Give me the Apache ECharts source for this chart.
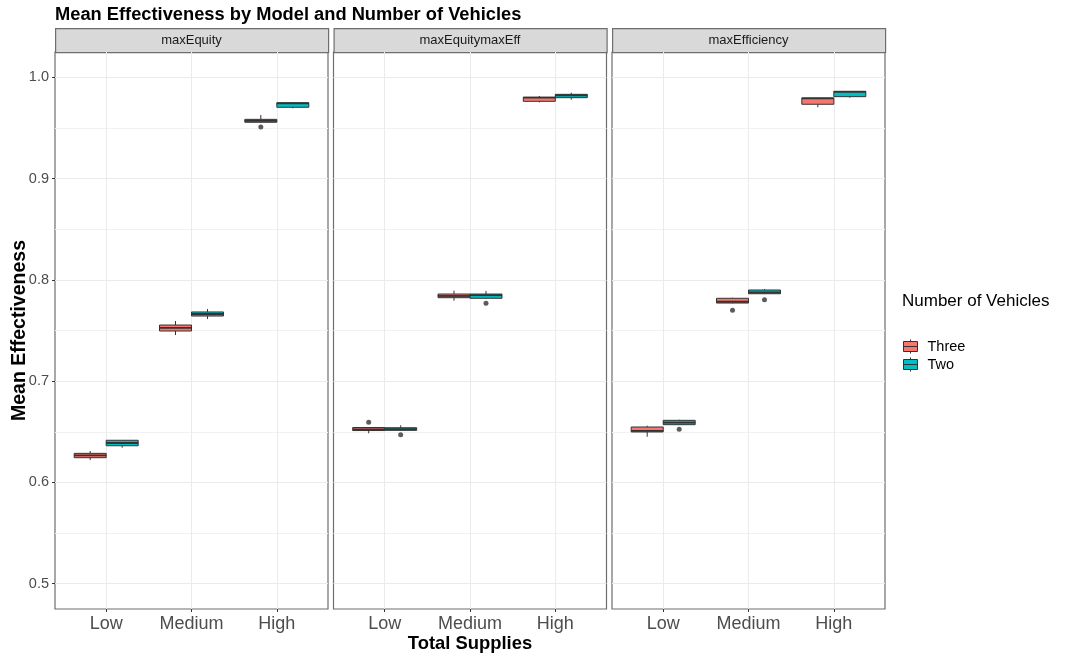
<!DOCTYPE html>
<html>
<head>
<meta charset="utf-8">
<script src="https://cdn.jsdelivr.net/npm/echarts@6/dist/echarts.min.js"></script>
<style>
  html, body { margin: 0; padding: 0; background: #fff; }
  #chart { width: 1066px; height: 655px; }
</style>
</head>
<body>
<div id="chart"></div>
<script>
// Facet panels, x categories and legend groups
const models = ['maxEquity', 'maxEquitymaxEff', 'maxEfficiency'];
const supplies = ['Low', 'Medium', 'High'];
const vehicles = ['Three', 'Two'];
const yTicks = [0.5, 0.6, 0.7, 0.8, 0.9, 1.0];
const yMinorTicks = [0.55, 0.65, 0.75, 0.85, 0.95];

// Five-number summaries [min, Q1, median, Q3, max] for Low, Medium, High
const maxEquityThree = [[0.6221, 0.6244, 0.6266, 0.6287, 0.6310], [0.7455, 0.7495, 0.7525, 0.7554, 0.7594], [0.9553, 0.9556, 0.9570, 0.9585, 0.9628]];
const maxEquityTwo = [[0.6343, 0.6362, 0.6389, 0.6416, 0.6418], [0.7613, 0.7643, 0.7663, 0.7683, 0.7712], [0.9694, 0.9704, 0.9743, 0.9749, 0.9752]];
const maxEquitymaxEffThree = [[0.6485, 0.6512, 0.6524, 0.6542, 0.6545], [0.7794, 0.7824, 0.7841, 0.7860, 0.7893], [0.9753, 0.9763, 0.9800, 0.9803, 0.9816]];
const maxEquitymaxEffTwo = [[0.6510, 0.6514, 0.6527, 0.6540, 0.6564], [0.7815, 0.7818, 0.7849, 0.7860, 0.7890], [0.9779, 0.9799, 0.9822, 0.9832, 0.9848]];
const maxEfficiencyThree = [[0.6451, 0.6498, 0.6508, 0.6547, 0.6560], [0.7768, 0.7771, 0.7784, 0.7818, 0.7824], [0.9704, 0.9734, 0.9792, 0.9796, 0.9798]];
const maxEfficiencyTwo = [[0.6568, 0.6570, 0.6590, 0.6613, 0.6619], [0.7860, 0.7863, 0.7877, 0.7900, 0.7910], [0.9799, 0.9809, 0.9856, 0.9862, 0.9864]];

// Points beyond the whiskers: [supply index, value]
const maxEquityThreeOut = [[2, 0.9509]];
const maxEquityTwoOut = [];
const maxEquitymaxEffThreeOut = [[0, 0.6593]];
const maxEquitymaxEffTwoOut = [[0, 0.6471], [1, 0.7769]];
const maxEfficiencyThreeOut = [[1, 0.7699]];
const maxEfficiencyTwoOut = [[0, 0.6524], [1, 0.7804]];

const panelData = [
  { Three: maxEquityThree, Two: maxEquityTwo, ThreeOut: maxEquityThreeOut, TwoOut: maxEquityTwoOut },
  { Three: maxEquitymaxEffThree, Two: maxEquitymaxEffTwo, ThreeOut: maxEquitymaxEffThreeOut, TwoOut: maxEquitymaxEffTwoOut },
  { Three: maxEfficiencyThree, Two: maxEfficiencyTwo, ThreeOut: maxEfficiencyThreeOut, TwoOut: maxEfficiencyTwoOut }
];

const FONT = '"Liberation Sans", Arial, sans-serif';
const colors = { Three: '#F8766D', Two: '#00BFC4' };
const BOX_WIDTH = 0.375;              // per group, in category units
const dodge = { Three: -0.1875, Two: 0.1875 };
const panelLeft = [55, 333.5, 612];
const panelWidth = 273;
const panelTop = 52;
const panelHeight = 557;
const stripHeight = 24;

function renderBox(params, api) {
  const x = api.value(0);
  const lo = api.coord([x, api.value(1)]);
  const q1 = api.coord([x, api.value(2)]);
  const md = api.coord([x, api.value(3)]);
  const q3 = api.coord([x, api.value(4)]);
  const hi = api.coord([x, api.value(5)]);
  const half = api.size([BOX_WIDTH, 0])[0] / 2;
  const edge = '#333333';
  return {
    type: 'group',
    children: [
      { type: 'line', shape: { x1: lo[0], y1: lo[1], x2: q1[0], y2: q1[1] }, style: { stroke: edge, lineWidth: 1 } },
      { type: 'line', shape: { x1: q3[0], y1: q3[1], x2: hi[0], y2: hi[1] }, style: { stroke: edge, lineWidth: 1 } },
      { type: 'rect', shape: { x: q1[0] - half, y: q3[1], width: 2 * half, height: q1[1] - q3[1] },
        style: { fill: api.visual('color'), stroke: edge, lineWidth: 1 } },
      { type: 'line', shape: { x1: md[0] - half, y1: md[1], x2: md[0] + half, y2: md[1] }, style: { stroke: edge, lineWidth: 1.8 } }
    ]
  };
}

const grids = [], xAxes = [], yAxes = [], series = [], graphics = [];

models.forEach((model, i) => {
  grids.push({
    left: panelLeft[i], top: panelTop, width: panelWidth, height: panelHeight,
    containLabel: false, outerBoundsMode: 'none',
    show: true, borderColor: '#6E6E6E', borderWidth: 1.2, backgroundColor: 'transparent'
  });
  xAxes.push({
    type: 'value', gridIndex: i, min: 0.4, max: 3.6,
    axisLine: { show: false },
    axisTick: { show: true, length: 3, lineStyle: { color: '#333' }, customValues: [1, 2, 3] },
    axisLabel: {
      customValues: [1, 2, 3], formatter: v => supplies[Math.round(v) - 1],
      color: '#4D4D4D', fontSize: 18, fontFamily: FONT, margin: 6
    },
    splitLine: { show: true, lineStyle: { color: '#EBEBEB', width: 1 } },
    name: i === 1 ? 'Total Supplies' : '',
    nameLocation: 'middle', nameGap: 26, nameMoveOverlap: false,
    nameTextStyle: { fontSize: 18.4, fontWeight: 'bold', color: '#000', fontFamily: FONT }
  });
  // major y grid, ticks and labels
  yAxes.push({
    type: 'value', gridIndex: i, min: 0.475, max: 1.025,
    axisLine: { show: false },
    axisTick: { show: i === 0, length: 3, lineStyle: { color: '#333' }, customValues: yTicks },
    axisLabel: {
      show: i === 0, customValues: yTicks, formatter: v => v.toFixed(1),
      color: '#4D4D4D', fontSize: 14.5, fontFamily: FONT, margin: 6
    },
    splitLine: { show: true, lineStyle: { color: '#EBEBEB', width: 1 } },
    name: i === 0 ? 'Mean Effectiveness' : '',
    nameLocation: 'middle', nameGap: 25, nameMoveOverlap: false,
    nameTextStyle: { fontSize: 19.5, fontWeight: 'bold', color: '#000', fontFamily: FONT }
  });
  // minor y grid
  yAxes.push({
    type: 'value', gridIndex: i, min: 0.475, max: 1.025, position: 'left',
    axisLine: { show: false },
    axisTick: { show: false, customValues: yMinorTicks },
    axisLabel: { show: false, customValues: yMinorTicks },
    splitLine: { show: true, lineStyle: { color: '#F2F2F2', width: 1 } }
  });

  vehicles.forEach(v => {
    series.push({
      type: 'custom', name: v, xAxisIndex: i, yAxisIndex: 2 * i,
      itemStyle: { color: colors[v] },
      renderItem: renderBox,
      encode: { x: 0, y: [1, 2, 3, 4, 5] },
      data: panelData[i][v].map((s, k) => [k + 1 + dodge[v]].concat(s)),
      z: 3
    });
    series.push({
      type: 'scatter', name: v + ' outliers', xAxisIndex: i, yAxisIndex: 2 * i,
      symbol: 'circle', symbolSize: 5,
      itemStyle: { color: '#333333' },
      data: panelData[i][v + 'Out'].map(p => [p[0] + 1 + dodge[v], p[1]]),
      z: 4, silent: true
    });
  });

  // facet strip
  graphics.push({
    type: 'rect', left: panelLeft[i], top: panelTop - stripHeight,
    shape: { width: panelWidth, height: stripHeight },
    style: { fill: '#D9D9D9', stroke: '#6E6E6E', lineWidth: 1.2 }
  });
  graphics.push({
    type: 'text', x: panelLeft[i] + panelWidth / 2, y: panelTop - stripHeight / 2,
    style: { text: model, fill: '#1A1A1A', fontSize: 13, fontFamily: FONT, align: 'center', verticalAlign: 'middle' }
  });
});

const chart = echarts.init(document.getElementById('chart'), null, { renderer: 'canvas' });
chart.setOption({
  backgroundColor: '#fff',
  animation: false,
  title: [
    { text: 'Mean Effectiveness by Model and Number of Vehicles', left: 50, top: 1,
      textStyle: { fontSize: 18.3, fontWeight: 'bold', color: '#000', fontFamily: FONT } },
    { text: 'Number of Vehicles', left: 897, top: 288,
      textStyle: { fontSize: 17, fontWeight: 'normal', color: '#000', fontFamily: FONT } }
  ],
  legend: {
    data: vehicles.map(v => ({ name: v, icon: 'path://M7,0V2M0,2H14V12H0ZM0,7H14M7,12V14' })),
    orient: 'vertical', left: 898, top: 334, itemGap: 3,
    itemWidth: 14, itemHeight: 14,
    itemStyle: { borderColor: '#333', borderWidth: 1 },
    textStyle: { fontSize: 14.5, color: '#000', fontFamily: FONT, padding: [0, 0, 0, 5] },
    selectedMode: false
  },
  grid: grids,
  xAxis: xAxes,
  yAxis: yAxes,
  series: series,
  graphic: graphics
});
</script>
</body>
</html>
